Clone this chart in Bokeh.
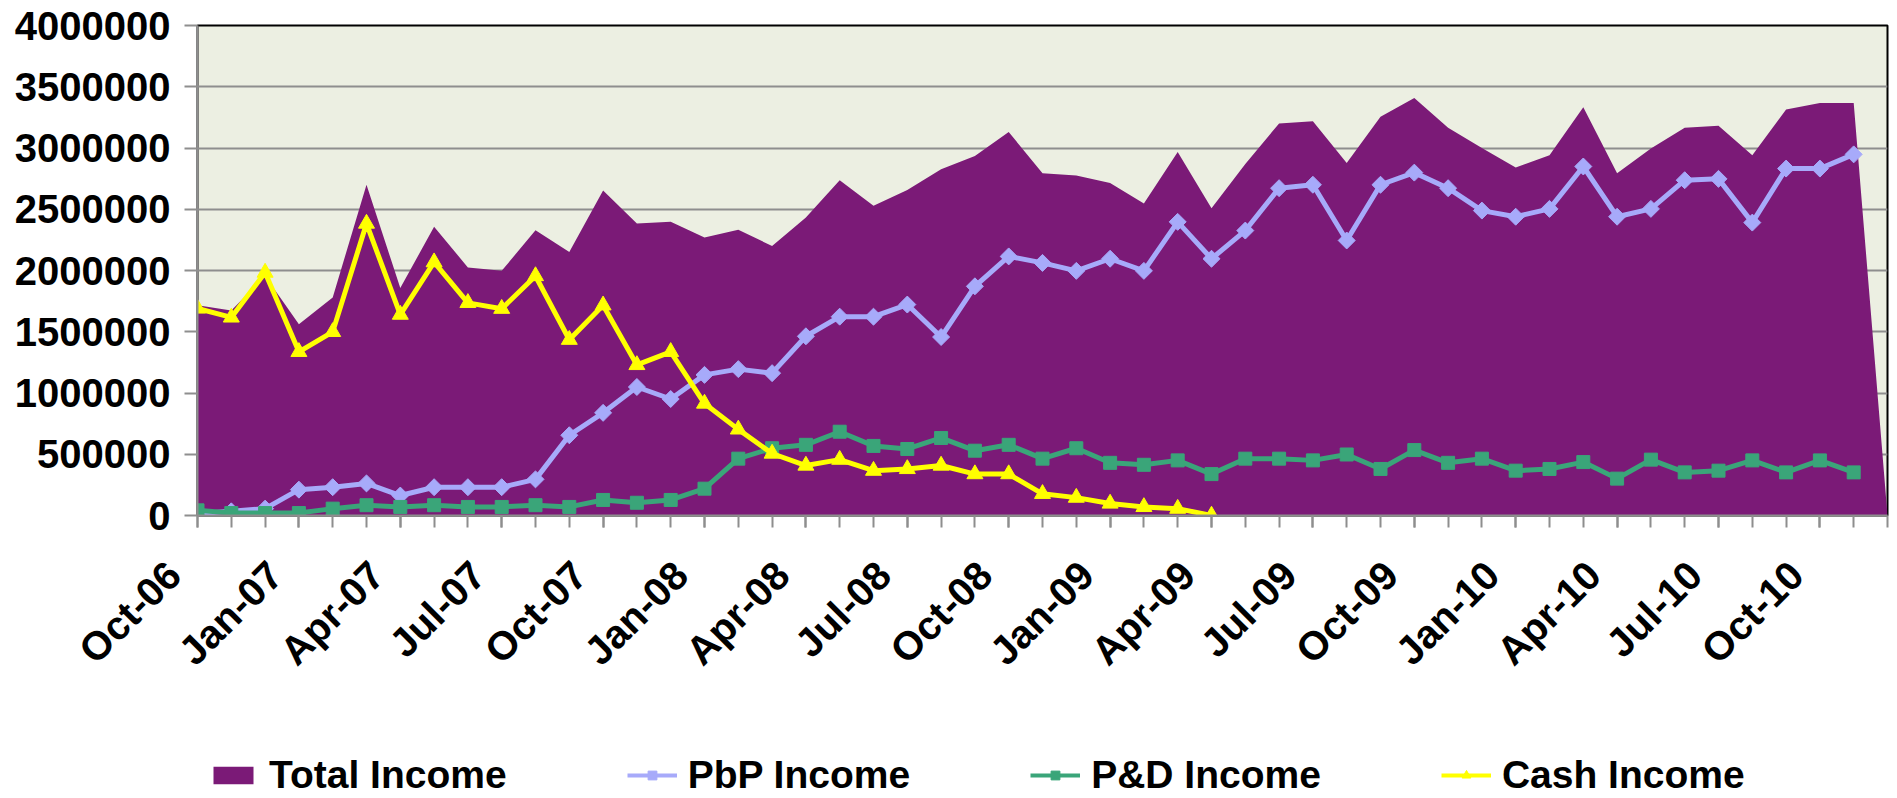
import math
from bokeh.plotting import figure
from bokeh.layouts import column
from bokeh.models import (FixedTicker, Legend, LegendItem, Range1d, NumeralTickFormatter)
from bokeh.embed import file_html
from bokeh.resources import INLINE

# ---------------- data ----------------
months = ["Oct-06", "Nov-06", "Dec-06", "Jan-07", "Feb-07", "Mar-07", "Apr-07", "May-07",
          "Jun-07", "Jul-07", "Aug-07", "Sep-07", "Oct-07", "Nov-07", "Dec-07", "Jan-08",
          "Feb-08", "Mar-08", "Apr-08", "May-08", "Jun-08", "Jul-08", "Aug-08", "Sep-08",
          "Oct-08", "Nov-08", "Dec-08", "Jan-09", "Feb-09", "Mar-09", "Apr-09", "May-09",
          "Jun-09", "Jul-09", "Aug-09", "Sep-09", "Oct-09", "Nov-09", "Dec-09", "Jan-10",
          "Feb-10", "Mar-10", "Apr-10", "May-10", "Jun-10", "Jul-10", "Aug-10", "Sep-10",
          "Oct-10", "Nov-10", "Dec-10"]

total_income = [1716000, 1674000, 1955000, 1561000, 1780000, 2700000, 1857000, 2357000,
                2025000, 1997000, 2329000, 2152000, 2653000, 2383000, 2397000, 2270000,
                2332000, 2200000, 2433000, 2737000, 2529000, 2658000, 2827000, 2934000,
                3131000, 2793000, 2776000, 2715000, 2546000, 2968000, 2509000, 2869000,
                3201000, 3218000, 2878000, 3255000, 3409000, 3165000, 3001000, 2841000,
                2940000, 3333000, 2793000, 2996000, 3165000, 3181000, 2940000, 3314000,
                3367000, 3367000, 0]

pbp_income = [15000, 34000, 56000, 211000, 231000, 262000, 163000, 231000,
              231000, 231000, 295000, 655000, 838000, 1049000, 951000, 1148000,
              1195000, 1162000, 1463000, 1623000, 1623000, 1722000, 1457000, 1871000,
              2115000, 2062000, 1997000, 2096000, 1997000, 2397000, 2096000, 2326000,
              2672000, 2700000, 2245000, 2700000, 2799000, 2672000, 2489000, 2439000,
              2503000, 2849000, 2439000, 2503000, 2737000, 2748000, 2391000, 2832000,
              2832000, 2948000]

pd_income = [42000, 20000, 20000, 20000, 56000, 84000, 70000, 84000,
             70000, 70000, 84000, 70000, 127000, 104000, 127000, 219000,
             464000, 549000, 577000, 684000, 568000, 543000, 633000, 529000,
             577000, 464000, 549000, 430000, 414000, 450000, 338000, 464000,
             464000, 450000, 498000, 380000, 534000, 430000, 464000, 366000,
             380000, 436000, 301000, 456000, 352000, 366000, 450000, 352000,
             450000, 352000]

cash_income = [1690000, 1617000, 1983000, 1336000, 1499000, 2383000, 1640000, 2068000,
               1736000, 1688000, 1955000, 1435000, 1716000, 1229000, 1336000, 914000,
               703000, 506000, 408000, 456000, 366000, 380000, 408000, 338000,
               338000, 177000, 146000, 98000, 70000, 56000, 0]

y_ticks = [0, 500000, 1000000, 1500000, 2000000, 2500000, 3000000, 3500000, 4000000]
label_step = 3

series_names = ["Total Income", "PbP Income", "P&D Income", "Cash Income"]

# ---------------- style ----------------
FONT = "Liberation Sans"
FS_AXIS = "40px"
FS_LEG = "39px"
PURPLE = "#7B1A77"
LAVENDER = "#A7AAFA"
GREEN = "#3AA579"
YELLOW = "#FFFF00"
GRID = "#8E8E8E"
LW = 5

W = 1889
H_MAIN, H_LEG = 740, 58
LEFT, RIGHT, TOP = 197, 2, 25
BOTTOM = H_MAIN - 515

x_all = list(range(len(months)))

p = figure(width=W, height=H_MAIN, output_backend="svg", toolbar_location=None,
           x_range=Range1d(0, len(months) - 1), y_range=Range1d(y_ticks[0], y_ticks[-1]),
           min_border_left=LEFT, min_border_right=RIGHT,
           min_border_top=TOP, min_border_bottom=BOTTOM)

p.background_fill_color = "#ECEFE2"
p.border_fill_color = "white"
p.outline_line_color = "black"
p.outline_line_width = 2

# axes
NBSP = "\u00a0"
xa = p.xaxis[0]
xa.ticker = FixedTicker(ticks=x_all[::label_step], minor_ticks=x_all)
# trailing non-breaking spaces pull the slanted labels down-left of their tick
xa.major_label_overrides = {i: months[i] + NBSP * 3 for i in x_all[::label_step]}
xa.major_label_orientation = math.pi / 4
ya = p.yaxis[0]
ya.ticker = FixedTicker(ticks=y_ticks)
ya.formatter = NumeralTickFormatter(format="0")
for ax in (xa, ya):
    ax.major_label_text_font = FONT
    ax.major_label_text_font_style = "bold"
    ax.major_label_text_font_size = FS_AXIS
    ax.major_label_text_color = "black"
    ax.axis_line_color = GRID
    ax.axis_line_width = 2
    ax.major_tick_line_color = GRID
    ax.major_tick_line_width = 2
    ax.minor_tick_line_color = GRID
    ax.minor_tick_line_width = 2
    ax.major_tick_in = 0
    ax.minor_tick_in = 0
xa.major_tick_out = 12
xa.minor_tick_out = 12
xa.major_label_standoff = 17
ya.major_tick_out = 13
ya.minor_tick_line_color = None
ya.major_label_standoff = 14

p.xgrid.visible = False
p.ygrid.ticker = FixedTicker(ticks=y_ticks)
p.ygrid.grid_line_color = GRID
p.ygrid.grid_line_width = 2

# series
p.varea(x=x_all, y1=[0] * len(total_income), y2=total_income,
        fill_color=PURPLE, fill_alpha=1)

x_pbp = x_all[:len(pbp_income)]
p.line(x_pbp, pbp_income, line_color=LAVENDER, line_width=LW)
p.scatter(x_pbp, pbp_income, marker="square", angle=math.pi / 4, size=12,
          fill_color=LAVENDER, line_color=LAVENDER)

x_pd = x_all[:len(pd_income)]
p.line(x_pd, pd_income, line_color=GREEN, line_width=LW)
p.scatter(x_pd, pd_income, marker="square", size=13,
          fill_color=GREEN, line_color=GREEN)

x_cash = x_all[:len(cash_income)]
p.line(x_cash, cash_income, line_color=YELLOW, line_width=LW)
p.scatter(x_cash, cash_income, marker="triangle", size=16,
          fill_color=YELLOW, line_color=YELLOW)

# ---------------- legend strip (separate figure below the chart) ----------------
lg = figure(width=W, height=H_LEG, output_backend="svg", toolbar_location=None,
            x_axis_type=None, y_axis_type=None, x_range=Range1d(0, 1), y_range=Range1d(0, 1),
            min_border_left=0, min_border_right=0, min_border_top=0, min_border_bottom=0)
lg.outline_line_color = None
lg.background_fill_color = "white"
lg.border_fill_color = "white"
lg.xgrid.visible = False
lg.ygrid.visible = False

# legend keys: proxy renderers whose points lie outside the strip's visible range
kx, ky = [5, 6], [5, 5]
k_area = lg.varea(x=kx, y1=ky, y2=[6, 6], fill_color=PURPLE, fill_alpha=1)
k_pbp_l = lg.line(x=kx, y=ky, line_color=LAVENDER, line_width=4)
k_pbp_m = lg.scatter(x=kx, y=ky, marker="square", angle=math.pi / 4,
                     fill_color=LAVENDER, line_color=LAVENDER)
k_pd_l = lg.line(x=kx, y=ky, line_color=GREEN, line_width=4)
k_pd_m = lg.scatter(x=kx, y=ky, marker="square", fill_color=GREEN, line_color=GREEN)
k_cash_l = lg.line(x=kx, y=ky, line_color=YELLOW, line_width=4)
k_cash_m = lg.scatter(x=kx, y=ky, marker="triangle", fill_color=YELLOW, line_color=YELLOW)

legend = Legend(items=[
    LegendItem(label=series_names[0], renderers=[k_area]),
    LegendItem(label=series_names[1], renderers=[k_pbp_l, k_pbp_m]),
    LegendItem(label=series_names[2], renderers=[k_pd_l, k_pd_m]),
    LegendItem(label=series_names[3], renderers=[k_cash_l, k_cash_m]),
], orientation="horizontal", location=(11, 1),
    glyph_width=50, glyph_height=22, label_standoff=11, spacing=120,
    padding=0, margin=0, border_line_alpha=0, background_fill_alpha=0,
    label_text_font=FONT, label_text_font_style="bold", label_text_font_size=FS_LEG,
    label_text_color="black")
lg.add_layout(legend)

layout = column(p, lg, spacing=0)
open("out.html", "w").write(file_html(layout, INLINE))
